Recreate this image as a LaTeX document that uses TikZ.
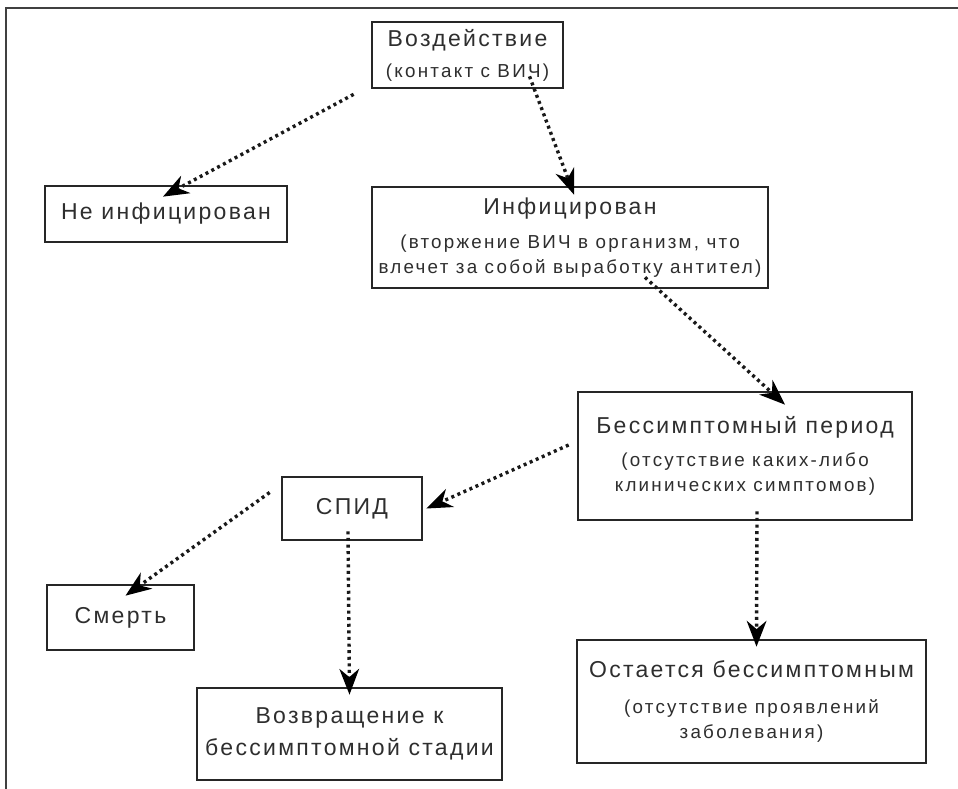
\documentclass[tikz,border=0pt]{standalone}
\usepackage{fontspec}
\setmainfont{Liberation Sans}
\usetikzlibrary{arrows.meta}
\definecolor{txt}{HTML}{2E2E2E}
\newcommand{\ttl}{\fontsize{23}{27}\selectfont\addfontfeature{LetterSpace=10}}
\newcommand{\sbt}{\fontsize{18.8}{25}\selectfont\addfontfeature{LetterSpace=12}}
\tikzset{
  box/.style={draw=black!85, line width=2.7pt, fill=white, rectangle, inner sep=0pt, align=center, text=txt},
  subbox/.style={box, font=\sbt},
  ttlbox/.style={box, font=\ttl},
  flow/.style={line width=3.4pt, dash pattern=on 3pt off 3.6pt, draw=black!90,
    -{Stealth[length=26pt, width=20pt, line width=0pt, fill=black]}},
  frameline/.style={draw=black!75, line width=2pt}
}
\begin{document}
\begin{tikzpicture}[x=1pt, y=-1pt]
\useasboundingbox (0,0) rectangle (958,789);
\fill[white] (0,0) rectangle (958,789);
\coordinate (ftl) at (6,8);
\coordinate (ftr) at (958,8);
\coordinate (fbl) at (6,789);
\draw[frameline] (ftr) -- (ftl) -- (fbl);

\node[subbox, minimum width=191pt, minimum height=66pt] (vozd) at (467.5,55)
  {{\ttl Воздействие}\\[6pt](контакт с ВИЧ)};
\node[ttlbox, minimum width=242pt, minimum height=56pt] (neinf) at (166,214)
  {Не инфицирован};
\node[subbox, minimum width=396pt, minimum height=101pt] (inf) at (570,237.5)
  {{\ttl Инфицирован}\\[9pt](вторжение ВИЧ в организм, что\\влечет за собой выработку антител)};
\node[subbox, minimum width=334pt, minimum height=128pt] (bess) at (745,456)
  {{\ttl Бессимптомный период}\\[8pt](отсутствие каких-либо\\клинических симптомов)};
\node[ttlbox, minimum width=140pt, minimum height=63pt] (spid) at (352,508.5)
  {СПИД};
\node[ttlbox, minimum width=147pt, minimum height=65pt] (smert) at (120.5,617.5)
  {Смерть};
\node[ttlbox, minimum width=305pt, minimum height=92pt] (vozvr) at (349.5,734)
  {Возвращение к\\[5pt]бессимптомной стадии};
\node[subbox, minimum width=349pt, minimum height=123pt] (ost) at (751.5,701.5)
  {{\ttl Остается бессимптомным}\\[11pt](отсутствие проявлений\\заболевания)};

\draw[flow] ([xshift=-17pt,yshift=-5pt]vozd.south west) -- ([xshift=-3pt,yshift=-12pt]neinf.north);
\draw[flow] ([xshift=62pt,yshift=13pt]vozd.south) -- ([xshift=4pt,yshift=-9pt]inf.north);
\draw[flow] ([xshift=75pt,yshift=12pt]inf.south) -- ([xshift=40pt,yshift=-14pt]bess.north);
\draw[flow] ([xshift=-8pt,yshift=11pt]bess.west) -- ([xshift=3pt]spid.east);
\draw[flow] ([xshift=-11pt,yshift=16pt]spid.west) -- ([xshift=5pt,yshift=-12pt]smert.north);
\draw[flow] ([xshift=-4pt,yshift=10pt]spid.south) -- ([yshift=-8pt]vozvr.north);
\draw[flow] ([xshift=12pt,yshift=10pt]bess.south) -- ([xshift=5pt,yshift=-8pt]ost.north);
\end{tikzpicture}
\end{document}
